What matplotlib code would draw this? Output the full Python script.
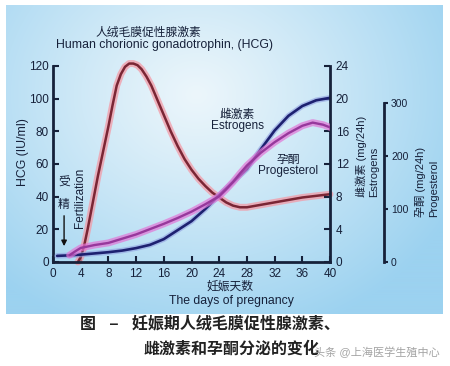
"""HCG, estrogen and progesterone levels over the days of pregnancy."""

import numpy as np
import matplotlib
matplotlib.use("Agg")
import matplotlib.pyplot as plt

plt.rcParams["font.family"] = ["Liberation Sans", "Noto Sans CJK SC", "DejaVu Sans"]

# --- data ----------------------------------------------------------------
hcg_days = [3.6, 4.0, 4.5, 5.0, 5.5, 6.0, 6.5, 7.0, 7.5, 8.0, 8.6, 9.2, 9.8,
            10.4, 11.0, 11.6, 12.2, 12.8, 13.5, 14.2, 15.0, 16.0, 17.0, 18.0,
            19.0, 20.0, 21.0, 22.0, 23.0, 24.0, 25.0, 26.0, 27.0, 28.0, 30.0,
            32.0, 34.0, 36.0, 38.0, 40.0]
hcg_vals = [0, 3, 10, 20, 31, 42, 53, 63, 73, 83, 96, 108, 115,
            119.5, 121.5, 121.5, 120.5, 118, 113.5, 108, 100, 90, 80, 71,
            63, 56.5, 51, 46.5, 42.5, 39.5, 36.5, 34.5, 33.5, 33.5, 35,
            36.5, 38, 39.5, 40.5, 41.5]

est_days = [0.6, 2, 4, 6, 8, 10, 12, 14, 16, 18, 20, 22, 24, 26, 28, 30, 32,
            34, 36, 38, 40]
est_vals = [0.75, 0.8, 0.9, 1.05, 1.2, 1.4, 1.7, 2.1, 2.8, 3.9, 5.0, 6.5, 8.2,
            9.8, 11.4, 13.8, 16.1, 17.9, 19.1, 19.8, 20.1]

prog_days = [2.4, 3.2, 4, 6, 8, 10, 12, 14, 16, 18, 20, 22, 24, 25, 26, 27, 28,
             30, 32, 34, 36, 37.5, 39, 40]
prog_vals = [13, 20, 26.5, 32, 36, 44, 52, 62, 72, 83, 95, 109, 124, 137, 151,
             167, 182, 206, 226, 243, 257, 263, 259, 254]

day_ticks = list(range(0, 41, 4))
hcg_ticks = list(range(0, 121, 20))
est_ticks = list(range(0, 25, 4))
prog_ticks = [0, 100, 200, 300]

INK = "#16213a"
W, H = 450, 366

fig = plt.figure(figsize=(W / 100, H / 100), dpi=100)
fig.patch.set_facecolor("white")


def fx(px):
    return px / W


def fy(py):
    return 1 - py / H


# gradient panel behind the chart
bg = fig.add_axes([fx(6), fy(314), fx(437), 309 / H], zorder=-10)
yy, xx = np.mgrid[0:309, 0:437]
d = np.sqrt(((xx - 190) / 290.0) ** 2 + ((yy - 90) / 250.0) ** 2).clip(0, 1) ** 1.1
c0 = np.array([236, 246, 251]) / 255
c1 = np.array([156, 210, 240]) / 255
bg.imshow(c0 + (c1 - c0) * d[..., None], aspect="auto")
bg.axis("off")

# main axes: 0 at (53, 262), 40 at x=330, 120 at y=66
ax = fig.add_axes([fx(53), fy(262), fx(277), 196 / H * 130 / 120])
ax.patch.set_alpha(0)
ax.set_xlim(0, 40)
ax.set_ylim(0, 130)

ax2 = ax.twinx()
ax2.set_ylim(0, 26)
ax3 = ax.twinx()
ax3.set_ylim(0, 400.6)

for a in (ax, ax2, ax3):
    for s in a.spines.values():
        s.set_visible(False)
        s.set_color(INK)
        s.set_linewidth(2)

ax.spines["left"].set_visible(True)
ax.spines["left"].set_bounds(0, 120)
ax.spines["bottom"].set_visible(True)
ax.spines["bottom"].set_bounds(0, 40)
ax.set_xticks(day_ticks)
ax.set_yticks(hcg_ticks)
ax.tick_params(axis="both", direction="in", length=4, width=1.5, color=INK,
               labelsize=8.5, labelcolor=INK, pad=3)
ax.tick_params(axis="x", pad=4)

ax2.spines["right"].set_visible(True)
ax2.spines["right"].set_bounds(0, 24)
ax2.set_yticks(est_ticks)
ax2.tick_params(axis="y", direction="in", length=4, width=1.5, color=INK,
                labelsize=8.5, labelcolor=INK, pad=4)

ax3.spines["right"].set_visible(True)
ax3.spines["right"].set_position(("axes", (384 - 53) / 277))
ax3.spines["right"].set_bounds(0, 300)
ax3.set_yticks(prog_ticks)
ax3.tick_params(axis="y", direction="out", length=3, width=1.5, color=INK,
                labelsize=7.5, labelcolor=INK, pad=2)

# curves: soft glow + dark core
kw = dict(solid_capstyle="round", solid_joinstyle="round")
ax.plot(hcg_days, hcg_vals, color="#f39aa6", lw=5, alpha=0.75, clip_on=False, **kw)
ax.plot(hcg_days, hcg_vals, color="#7a2635", lw=1.8, clip_on=False, **kw)
ax3.plot(prog_days, prog_vals, color="#e274d6", lw=5, alpha=0.7, **kw)
ax3.plot(prog_days, prog_vals, color="#97389c", lw=1.7, **kw)
ax2.plot(est_days, est_vals, color="#8f9ee0", lw=4, alpha=0.6, **kw)
ax2.plot(est_days, est_vals, color="#1d2170", lw=1.9, **kw)

# in-plot labels
ax.text(26.6, 90, "雌激素", ha="center", va="center", fontsize=8.5, color=INK)
ax.text(26.6, 83, "Estrogens", ha="center", va="center", fontsize=8.5, color=INK)
ax.text(33.9, 62.4, "孕酮", ha="center", va="center", fontsize=8.5, color=INK)
ax.text(33.9, 55.7, "Progesterol", ha="center", va="center", fontsize=8.5, color=INK)
ax.text(1.6, 48.4, "受", ha="center", va="center", fontsize=8.5, color=INK)
ax.text(1.5, 35, "精", ha="center", va="center", fontsize=8.5, color=INK)
ax.text(3.9, 21, "Fertilization", rotation=90, ha="center", va="bottom",
        fontsize=8.5, color=INK)
ax.annotate("", xy=(1.6, 8), xytext=(1.6, 30),
            arrowprops=dict(arrowstyle="-|>", color="#111111", lw=1,
                            mutation_scale=8))

# titles and axis labels
fig.text(fx(148), fy(32), "人绒毛膜促性腺激素", ha="center", va="center",
         fontsize=8.5, color=INK)
fig.text(fx(164), fy(45), "Human chorionic gonadotrophin, (HCG)", ha="center",
         va="center", fontsize=8.8, color=INK)
fig.text(fx(23), fy(152), "HCG (IU/ml)", rotation=90, ha="center", va="center",
         fontsize=8.8, color=INK)
fig.text(fx(361), fy(197), "雌激素 (mg/24h)", rotation=90, ha="center",
         va="bottom", fontsize=8, color=INK)
fig.text(fx(374), fy(197), "Estrogens", rotation=90, ha="center", va="bottom",
         fontsize=8, color=INK)
fig.text(fx(421), fy(217), "孕酮 (mg/24h)", rotation=90, ha="center",
         va="bottom", fontsize=8, color=INK)
fig.text(fx(434), fy(217), "Progesterol", rotation=90, ha="center",
         va="bottom", fontsize=8, color=INK)
fig.text(fx(230), fy(287), "妊娠天数", ha="center", va="center", fontsize=8.5,
         color=INK)
fig.text(fx(231), fy(301), "The days of pregnancy", ha="center", va="center",
         fontsize=8.8, color=INK)

# caption under the panel
fig.text(fx(80), fy(324), "图   –   妊娠期人绒毛膜促性腺激素、", ha="left",
         va="center", fontsize=11.5, fontweight="bold", color="#222222")
fig.text(fx(143), fy(349), "雌激素和孕酮分泌的变化", ha="left", va="center",
         fontsize=11.5, fontweight="bold", color="#222222")
fig.text(fx(314), fy(352), "头条 @上海医学生殖中心", ha="left", va="center",
         fontsize=8, color="#9a9a9a", alpha=0.9)

fig.savefig("out.png", dpi=100)
